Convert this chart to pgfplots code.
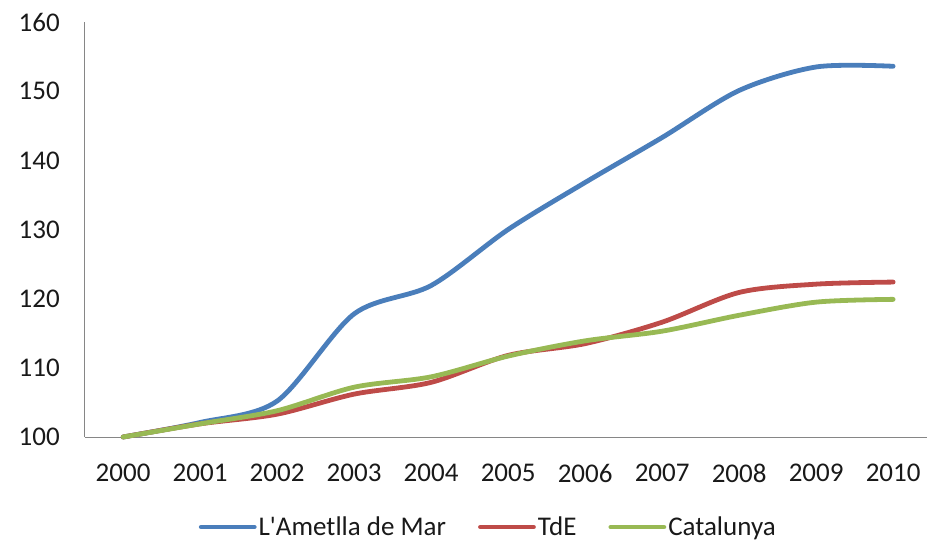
\documentclass[border=0pt]{standalone}
\usepackage{fontspec}
\setmainfont{Carlito}
\usepackage{pgfplots}
\pgfplotsset{compat=1.18}
\definecolor{cblue}{HTML}{4A7EBB}
\definecolor{cred}{HTML}{BE4B48}
\definecolor{cgreen}{HTML}{98B954}
\definecolor{axgray}{HTML}{868686}
\begin{document}
\begin{tikzpicture}
\begin{axis}[
  scale only axis,
  width=842pt, height=415pt,
  xmin=1999.505, xmax=2010.44,
  ymin=100, ymax=160,
  axis x line=bottom, axis y line=left,
  axis line style={-, draw=axgray, line width=1pt},
  major tick length=0pt,
  xtick={2000,2001,2002,2003,2004,2005,2006,2007,2008,2009,2010},
  xticklabels={2000,2001,2002,2003,2004,2005,2006,2007,2008,2009,2010},
  ytick={100,110,120,130,140,150,160},
  yticklabels={100,110,120,130,140,150,160},
  ticklabel style={font=\fontsize{27}{30}\selectfont, text=black!90},
  yticklabel style={anchor=east, inner sep=0pt, xshift=-25pt},
  xticklabel style={anchor=north, inner sep=0pt, yshift=-27pt},
  clip=false,
  legend columns=3,
  legend style={draw=none, fill=none, at={(0.479,-0.217)}, anchor=center,
    font=\fontsize{27}{30}\selectfont, inner sep=0pt, text=black!90,
    /tikz/every even column/.append style={column sep=30pt},
    nodes={inner sep=2pt}},
  legend image code/.code={\draw[#1, line cap=round] (0pt,0pt) -- (53pt,0pt);},
]
\addplot[cblue, line width=4.8pt, smooth, line cap=round] coordinates {
(2000,100) (2001,102.1) (2002,105.2) (2003,117.8) (2004,121.9) (2005,130.0)
(2006,136.8) (2007,143.3) (2008,150.1) (2009,153.5) (2010,153.6)};
\addlegendentry{L\textquotesingle Ametlla de Mar}
\addplot[cred, line width=4.8pt, smooth, line cap=round] coordinates {
(2000,100) (2001,101.9) (2002,103.3) (2003,106.2) (2004,107.9) (2005,111.8)
(2006,113.5) (2007,116.6) (2008,120.9) (2009,122.1) (2010,122.4)};
\addlegendentry{TdE}
\addplot[cgreen, line width=4.8pt, smooth, line cap=round] coordinates {
(2000,100) (2001,101.9) (2002,103.8) (2003,107.2) (2004,108.7) (2005,111.7)
(2006,113.9) (2007,115.3) (2008,117.6) (2009,119.5) (2010,119.9)};
\addlegendentry{Catalunya}
\end{axis}
\pgfresetboundingbox
\path (-85pt,-105pt) rectangle (842pt,437pt);
\end{tikzpicture}
\end{document}
